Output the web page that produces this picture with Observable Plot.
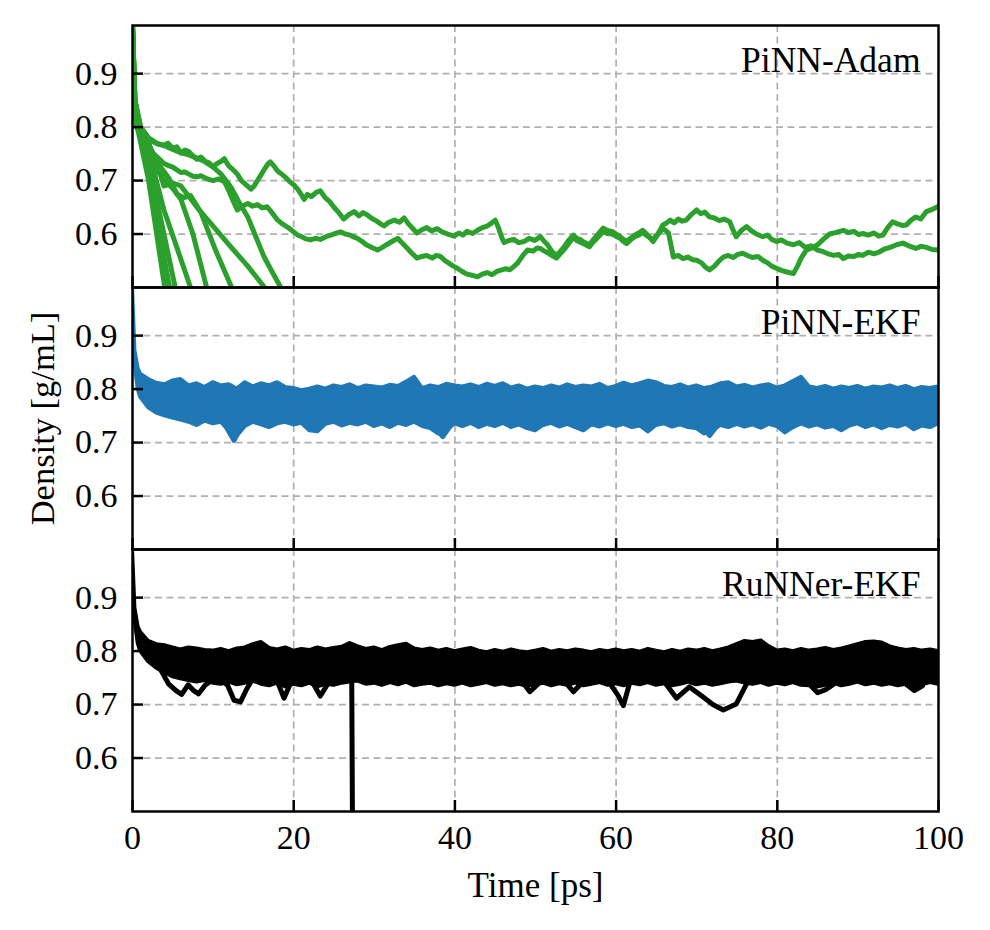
<!DOCTYPE html>
<html>
<head>
<meta charset="utf-8">
<script src="https://cdn.jsdelivr.net/npm/d3@7"></script>
<script src="https://cdn.jsdelivr.net/npm/@observablehq/plot@0.6"></script>
<style>
  html, body { margin: 0; padding: 0; background: #fff; }
  #chart { width: 990px; height: 930px; }
  #chart svg text { font-family: 'Liberation Serif', 'Times New Roman', Times, serif !important; }
</style>
</head>
<body>
<div id="chart"></div>
<script>
// ---------- data ----------
const panels = ["PiNN-Adam", "PiNN-EKF", "RuNNer-EKF"];
const xTicks = [0, 20, 40, 60, 80, 100];
const xGrid = [20, 40, 60, 80];
const yTicks = [0.6, 0.7, 0.8, 0.9];
const yLabel = "Density [g/mL]";
const xLabel = "Time [ps]";

// sample times for the dense EKF bands
const bandT = [0, 0.3, 0.7, 1, 2, 3, 4, 5, 6, 7, 8, 9, 10,
  11, 12, 13, 14, 15, 16, 17, 18, 19, 20, 21, 22, 23, 24, 25, 26, 27, 28, 29, 30,
  31, 32, 33, 34, 35, 36, 37, 38, 39, 40, 41, 42, 43, 44, 45, 46, 47, 48, 49, 50,
  51, 52, 53, 54, 55, 56, 57, 58, 59, 60, 61, 62, 63, 64, 65, 66, 67, 68, 69, 70,
  71, 72, 73, 74, 75, 76, 77, 78, 79, 80, 81, 82, 83, 84, 85, 86, 87, 88, 89, 90,
  91, 92, 93, 94, 95, 96, 97, 98, 99, 100];

// PiNN-EKF band (upper / lower envelope)
const ekfHi = [0.990, 0.872, 0.838, 0.828, 0.818, 0.811, 0.808, 0.815, 0.818, 0.806, 0.810, 0.803, 0.812,
  0.806, 0.808, 0.800, 0.812, 0.804, 0.810, 0.806, 0.812, 0.803, 0.801, 0.797, 0.800, 0.804, 0.800, 0.806, 0.803, 0.808, 0.801, 0.806, 0.804,
  0.802, 0.807, 0.805, 0.813, 0.822, 0.801, 0.806, 0.803, 0.809, 0.806, 0.804, 0.808, 0.803, 0.809, 0.805, 0.810, 0.802, 0.806, 0.800, 0.804,
  0.801, 0.806, 0.802, 0.808, 0.803, 0.806, 0.804, 0.809, 0.801, 0.805, 0.811, 0.806, 0.810, 0.815, 0.812, 0.805, 0.803, 0.808, 0.802, 0.806,
  0.801, 0.804, 0.810, 0.812, 0.804, 0.807, 0.802, 0.806, 0.808, 0.802, 0.806, 0.814, 0.822, 0.804, 0.801, 0.805, 0.800, 0.804, 0.801, 0.805,
  0.800, 0.804, 0.802, 0.806, 0.801, 0.805, 0.799, 0.803, 0.801, 0.804];
const ekfLo = [0.990, 0.850, 0.800, 0.785, 0.765, 0.755, 0.750, 0.746, 0.742, 0.738, 0.732, 0.740, 0.735,
  0.738, 0.722, 0.712, 0.730, 0.738, 0.733, 0.728, 0.735, 0.738, 0.733, 0.736, 0.722, 0.720, 0.734, 0.738, 0.731, 0.736, 0.733, 0.738, 0.730,
  0.735, 0.728, 0.736, 0.732, 0.738, 0.730, 0.726, 0.716, 0.722, 0.735, 0.730, 0.736, 0.728, 0.734, 0.730, 0.736, 0.728, 0.733, 0.726, 0.722,
  0.732, 0.736, 0.729, 0.734, 0.728, 0.722, 0.733, 0.729, 0.735, 0.730, 0.734, 0.728, 0.731, 0.720, 0.732, 0.735, 0.729, 0.733, 0.728, 0.726,
  0.716, 0.722, 0.732, 0.728, 0.734, 0.729, 0.733, 0.727, 0.734, 0.730, 0.718, 0.728, 0.735, 0.729, 0.733, 0.727, 0.730, 0.722, 0.731, 0.735,
  0.728, 0.733, 0.726, 0.732, 0.729, 0.734, 0.724, 0.731, 0.728, 0.735];

// RuNNer-EKF band (upper / lower envelope)
const runHi = [0.990, 0.880, 0.845, 0.835, 0.818, 0.812, 0.810, 0.806, 0.802, 0.806, 0.804, 0.801, 0.800,
  0.803, 0.799, 0.804, 0.806, 0.812, 0.816, 0.805, 0.802, 0.806, 0.800, 0.803, 0.801, 0.806, 0.802, 0.805, 0.807, 0.814, 0.808, 0.803, 0.806,
  0.801, 0.807, 0.810, 0.813, 0.804, 0.801, 0.804, 0.800, 0.803, 0.799, 0.802, 0.805, 0.800, 0.797, 0.801, 0.798, 0.802, 0.799, 0.797, 0.800,
  0.803, 0.798, 0.801, 0.799, 0.802, 0.800, 0.797, 0.801, 0.799, 0.802, 0.799, 0.801, 0.798, 0.803, 0.800, 0.797, 0.801, 0.798, 0.802, 0.800,
  0.803, 0.799, 0.802, 0.806, 0.812, 0.818, 0.816, 0.819, 0.808, 0.800, 0.802, 0.799, 0.803, 0.800, 0.802, 0.805, 0.801, 0.804, 0.808, 0.812,
  0.816, 0.817, 0.815, 0.808, 0.804, 0.801, 0.803, 0.800, 0.802, 0.799];
const runLo = [0.990, 0.860, 0.815, 0.800, 0.780, 0.768, 0.760, 0.752, 0.748, 0.745, 0.742, 0.745, 0.740,
  0.738, 0.742, 0.737, 0.740, 0.744, 0.738, 0.735, 0.740, 0.733, 0.738, 0.735, 0.740, 0.733, 0.738, 0.736, 0.740, 0.742, 0.744, 0.738, 0.740,
  0.736, 0.741, 0.737, 0.742, 0.735, 0.738, 0.740, 0.735, 0.739, 0.736, 0.740, 0.735, 0.738, 0.741, 0.736, 0.739, 0.735, 0.738, 0.734, 0.737,
  0.740, 0.735, 0.739, 0.736, 0.740, 0.735, 0.738, 0.741, 0.736, 0.739, 0.735, 0.740, 0.737, 0.741, 0.736, 0.739, 0.735, 0.738, 0.742, 0.737,
  0.740, 0.736, 0.739, 0.742, 0.744, 0.740, 0.738, 0.741, 0.736, 0.740, 0.737, 0.741, 0.736, 0.735, 0.733, 0.736, 0.740, 0.735, 0.738, 0.742,
  0.737, 0.740, 0.736, 0.739, 0.735, 0.738, 0.733, 0.737, 0.741, 0.738];

// PiNN-EKF dips that leave the band
const ekfDips = [
  [[11.3, 0.738], [12.6, 0.704], [13.6, 0.735]],
  [[37.2, 0.735], [38.5, 0.711], [39.6, 0.735]],
  [[70.6, 0.733], [71.6, 0.713], [72.6, 0.733]]
];

// RuNNer-EKF excursions (incl. the drop at ~27 ps)
const runDips = [
  [[3.5, 0.765], [4.5, 0.738], [5.4, 0.726], [6.1, 0.719], [6.9, 0.737], [7.6, 0.726], [8.2, 0.720], [9.0, 0.736], [9.8, 0.745]],
  [[10.8, 0.748], [11.8, 0.736], [12.6, 0.708], [13.4, 0.705], [14.2, 0.730], [15.0, 0.750]],
  [[18.0, 0.742], [18.8, 0.712], [19.6, 0.740]],
  [[22.4, 0.740], [23.3, 0.716], [24.2, 0.738]],
  [[26.6, 0.765], [27.2, 0.752], [27.35, 0.300]],
  [[48.5, 0.740], [49.3, 0.724], [50.3, 0.738]],
  [[53.8, 0.740], [54.7, 0.724], [55.6, 0.738]],
  [[59.2, 0.740], [60.2, 0.718], [60.9, 0.698], [61.6, 0.736]],
  [[66.0, 0.742], [67.5, 0.712], [69.1, 0.733], [70.8, 0.714], [72.0, 0.700], [73.3, 0.690], [74.9, 0.701], [76.2, 0.739], [76.8, 0.785], [77.6, 0.812]],
  [[84.0, 0.738], [85.0, 0.722], [86.0, 0.728], [87.0, 0.738]],
  [[96.0, 0.738], [97.0, 0.726], [98.0, 0.735]]
];

// PiNN-Adam trajectories
const adamA = [[0, 0.99], [0.2, 0.86], [0.5, 0.805], [1, 0.792], [1.5, 0.785], [2, 0.776], [2.6, 0.772], [3.2, 0.768], [3.9, 0.766], [4.4, 0.770], [5, 0.760], [5.5, 0.763], [6, 0.752], [6.5, 0.757], [7, 0.754], [7.5, 0.746], [8, 0.740], [8.5, 0.744], [9, 0.736], [9.5, 0.733], [10, 0.726], [10.5, 0.732], [11, 0.736], [11.4, 0.741], [11.9, 0.728], [12.5, 0.720], [13, 0.712], [13.5, 0.700], [14.1, 0.692], [14.7, 0.684], [15.1, 0.690], [15.5, 0.700], [16, 0.712], [16.4, 0.722], [16.8, 0.731], [17.1, 0.735], [17.5, 0.728], [18, 0.718], [18.5, 0.712], [19, 0.706], [19.5, 0.698], [20, 0.692], [20.5, 0.684], [21, 0.672], [21.3, 0.665], [21.7, 0.674], [22.2, 0.670], [22.8, 0.678], [23.3, 0.681], [23.9, 0.668], [24.5, 0.660], [25, 0.650], [25.6, 0.640], [26.2, 0.628], [26.8, 0.636], [27.5, 0.642], [28.1, 0.634], [28.6, 0.640], [29.1, 0.636], [29.7, 0.629], [30.2, 0.625], [30.7, 0.620], [31.2, 0.615], [31.8, 0.622], [32.5, 0.626], [33.1, 0.622], [33.7, 0.630], [34.3, 0.618], [34.8, 0.610], [35.3, 0.602], [35.9, 0.608], [36.5, 0.612], [37.1, 0.606], [37.8, 0.610], [38.4, 0.604], [39.1, 0.600], [39.9, 0.596], [40.5, 0.602], [41, 0.598], [41.5, 0.605], [42.2, 0.601], [42.8, 0.607], [43.4, 0.612], [44, 0.615], [44.5, 0.620], [45, 0.626], [45.4, 0.612], [45.8, 0.594], [46.1, 0.584], [46.7, 0.588], [47.3, 0.590], [47.9, 0.584], [48.6, 0.586], [49.2, 0.592], [49.9, 0.588], [50.6, 0.595], [51.1, 0.586], [51.5, 0.580], [52, 0.568], [52.6, 0.560], [53, 0.566], [53.5, 0.575], [54.1, 0.588], [54.7, 0.598], [55.1, 0.592], [55.5, 0.590], [56.1, 0.584], [56.7, 0.580], [57.1, 0.588], [57.5, 0.595], [58, 0.604], [58.4, 0.611], [59, 0.606], [59.5, 0.605], [60, 0.600], [60.5, 0.595], [60.9, 0.590], [61.3, 0.586], [61.8, 0.592], [62.3, 0.598], [62.8, 0.602], [63.3, 0.607], [63.9, 0.598], [64.6, 0.586], [65.2, 0.600], [65.8, 0.617], [66.2, 0.620], [66.7, 0.626], [67.2, 0.621], [67.7, 0.628], [68.2, 0.624], [68.7, 0.626], [69.3, 0.636], [70, 0.645], [70.5, 0.638], [71, 0.641], [71.6, 0.632], [72.2, 0.630], [72.8, 0.625], [73.4, 0.628], [74.1, 0.623], [74.5, 0.608], [74.9, 0.595], [75.5, 0.606], [76.2, 0.614], [76.8, 0.606], [77.4, 0.600], [78.2, 0.595], [78.8, 0.598], [79.3, 0.590], [79.9, 0.586], [80.5, 0.589], [81.2, 0.583], [82, 0.580], [82.7, 0.584], [83.5, 0.575], [84.2, 0.578], [85, 0.570], [85.7, 0.567], [86.3, 0.563], [87, 0.560], [87.6, 0.562], [88.2, 0.554], [88.8, 0.559], [89.5, 0.558], [90.1, 0.562], [90.6, 0.560], [91.3, 0.566], [92, 0.563], [92.6, 0.566], [93.3, 0.572], [94, 0.575], [94.8, 0.580], [95.6, 0.583], [96.3, 0.578], [97.2, 0.573], [97.8, 0.577], [98.5, 0.575], [99.2, 0.571], [100, 0.570]];
const adamB = [[0, 0.99], [0.2, 0.86], [0.5, 0.80], [1, 0.785], [1.5, 0.772], [2, 0.762], [2.5, 0.752], [3, 0.745], [3.5, 0.738], [3.9, 0.732], [4.5, 0.728], [5, 0.725], [5.5, 0.720], [6, 0.715], [6.5, 0.716], [7, 0.712], [7.5, 0.708], [8, 0.707], [8.5, 0.709], [9, 0.705], [9.5, 0.702], [10, 0.700], [10.7, 0.703], [11.4, 0.698], [11.8, 0.686], [12.2, 0.672], [12.6, 0.658], [13, 0.645], [13.6, 0.652], [14.3, 0.657], [14.9, 0.652], [15.5, 0.655], [16.1, 0.649], [16.7, 0.651], [17.3, 0.640], [18, 0.626], [18.5, 0.620], [19, 0.615], [19.5, 0.610], [20, 0.604], [20.5, 0.598], [21, 0.595], [21.5, 0.591], [22.1, 0.589], [22.7, 0.592], [23.3, 0.590], [24, 0.595], [24.6, 0.598], [25.2, 0.601], [25.8, 0.604], [26.4, 0.600], [27, 0.598], [27.5, 0.594], [27.9, 0.592], [28.5, 0.586], [29, 0.580], [29.7, 0.575], [30.4, 0.570], [31, 0.575], [31.5, 0.580], [32.2, 0.586], [32.9, 0.592], [33.4, 0.584], [34, 0.575], [34.6, 0.565], [35.3, 0.555], [35.9, 0.558], [36.5, 0.560], [37.2, 0.555], [37.7, 0.560], [38.2, 0.558], [38.8, 0.550], [39.3, 0.545], [39.8, 0.540], [40.3, 0.536], [40.9, 0.530], [41.5, 0.525], [42.1, 0.523], [42.8, 0.520], [43.4, 0.525], [44, 0.528], [44.6, 0.524], [45.2, 0.530], [45.8, 0.533], [46.3, 0.535], [46.8, 0.533], [47.3, 0.539], [47.8, 0.546], [48.2, 0.555], [48.6, 0.563], [49, 0.570], [49.7, 0.568], [50.2, 0.574], [50.6, 0.573], [51, 0.569], [51.5, 0.565], [52, 0.560], [52.6, 0.555], [53, 0.562], [53.5, 0.570], [54.1, 0.582], [54.7, 0.594], [55.1, 0.588], [55.5, 0.585], [56.1, 0.581], [56.7, 0.576], [57.1, 0.584], [57.5, 0.590], [58, 0.598], [58.4, 0.605], [58.9, 0.601], [59.5, 0.600], [60, 0.596], [60.5, 0.592], [60.9, 0.586], [61.3, 0.582], [61.8, 0.589], [62.3, 0.595], [62.8, 0.598], [63.3, 0.603], [63.9, 0.596], [64.6, 0.590], [65.2, 0.600], [65.8, 0.610], [66.2, 0.606], [66.5, 0.602], [66.8, 0.580], [67.1, 0.557], [67.7, 0.560], [68.3, 0.554], [68.9, 0.557], [69.5, 0.552], [70, 0.551], [70.6, 0.546], [71.1, 0.538], [71.6, 0.533], [72.2, 0.540], [72.8, 0.550], [73.3, 0.557], [73.9, 0.560], [74.5, 0.556], [75.1, 0.562], [75.7, 0.564], [76.3, 0.560], [76.9, 0.556], [77.6, 0.558], [78.2, 0.551], [78.8, 0.546], [79.3, 0.540], [79.9, 0.536], [80.5, 0.532], [81.2, 0.529], [82, 0.526], [82.5, 0.540], [83, 0.556], [83.6, 0.570], [84.3, 0.574], [85, 0.580], [85.7, 0.590], [86.5, 0.600], [87.3, 0.603], [88.2, 0.607], [88.8, 0.603], [89.5, 0.605], [90.1, 0.599], [90.6, 0.601], [91.3, 0.598], [92, 0.602], [92.6, 0.596], [93.1, 0.598], [93.7, 0.612], [94.3, 0.623], [94.9, 0.619], [95.5, 0.616], [96, 0.617], [96.6, 0.626], [97.2, 0.632], [97.8, 0.628], [98.5, 0.642], [99.2, 0.646], [100, 0.652]];
const adamCrash1 = [[0, 0.99], [0.2, 0.86], [0.6, 0.80], [2.0, 0.70], [4.0, 0.50], [4.4, 0.46]];
const adamCrash2 = [[0, 0.99], [0.2, 0.86], [0.6, 0.81], [2.2, 0.70], [4.6, 0.50], [5.0, 0.46]];
const adamCrash3 = [[0, 0.99], [0.2, 0.86], [0.7, 0.81], [2.5, 0.70], [5.3, 0.50], [5.7, 0.46]];
const adamCrash4 = [[0, 0.99], [0.3, 0.85], [1, 0.79], [1.8, 0.745], [2.6, 0.72], [3.9, 0.645], [5.5, 0.575], [7.2, 0.50], [7.7, 0.47]];
const adamCrash5 = [[0, 0.99], [0.3, 0.85], [1, 0.79], [2, 0.75], [3, 0.72], [4, 0.70], [5, 0.685], [6, 0.665], [7.5, 0.60], [9.2, 0.50], [9.6, 0.48]];
const adamCrash6 = [[0, 0.99], [0.3, 0.85], [1, 0.79], [2, 0.755], [3.5, 0.725], [4.5, 0.705], [5.5, 0.675], [6.4, 0.668], [7.2, 0.672], [8.5, 0.64], [10.3, 0.57], [12.3, 0.50], [12.8, 0.48]];
const adamCrash7 = [[0, 0.99], [0.3, 0.85], [1, 0.80], [2, 0.77], [3, 0.735], [3.9, 0.69], [5, 0.695], [6, 0.69], [7, 0.67], [8, 0.65], [10, 0.615], [12.2, 0.576], [14.3, 0.54], [16.4, 0.50], [16.9, 0.49]];
const adamCrash8 = [[0, 0.99], [0.3, 0.85], [1, 0.80], [2, 0.78], [3, 0.77], [4, 0.765], [5, 0.758], [6, 0.752], [7, 0.748], [8, 0.742], [9, 0.735], [10, 0.725], [11, 0.712], [12.2, 0.688], [13.2, 0.66], [14.3, 0.632], [15.3, 0.595], [16.3, 0.558], [17.3, 0.53], [18.4, 0.50], [18.8, 0.49]];
const adamLines = [adamCrash1, adamCrash2, adamCrash3, adamCrash4, adamCrash5, adamCrash6, adamCrash7, adamCrash8, adamB, adamA];

// ---------- build ----------
const W = 990, H = 930, ML = 132, MR = 52, MT = 25, MB = 119;
const innerW = W - ML - MR;
const facetH = (H - MT - MB) / panels.length;
const tickLen = 11;
const FONT = "'Liberation Serif', 'Times New Roman', Times, serif";
const colors = {adam: "#2ca02c", ekf: "#1f77b4", run: "#000000"};

const toRows = (lines) => lines.flatMap((pts, i) => pts.map(([t, v]) => ({t, v, id: i})));
const band = (lo, hi) => bandT.map((t, i) => ({t, lo: lo[i], hi: hi[i]}));

const gridStyle = {stroke: "#b0b0b0", strokeOpacity: 1, strokeWidth: 1.7, strokeDasharray: "7,4.5"};
const lineStyle = {strokeWidth: 5, strokeLinejoin: "round", strokeLinecap: "round", clip: true};

const chart = Plot.plot({
  width: W, height: H,
  marginLeft: ML, marginRight: MR, marginTop: MT, marginBottom: MB,
  style: {fontFamily: FONT, background: "#fff", color: "#000"},
  x: {domain: [0, 100], axis: null},
  y: {domain: [0.5, 0.99], axis: null},
  fy: {domain: panels, padding: 0, axis: null},
  marks: [
    Plot.gridX(xGrid, gridStyle),
    Plot.gridY(yTicks, gridStyle),
    // PiNN-Adam
    Plot.line(toRows(adamLines), {x: "t", y: "v", z: "id", fy: () => panels[0], stroke: colors.adam, ...lineStyle}),
    // PiNN-EKF
    Plot.areaY(band(ekfLo, ekfHi), {x: "t", y1: "lo", y2: "hi", fy: () => panels[1], fill: colors.ekf, stroke: colors.ekf, strokeWidth: 4, strokeLinejoin: "round", clip: true}),
    Plot.line(toRows(ekfDips), {x: "t", y: "v", z: "id", fy: () => panels[1], stroke: colors.ekf, ...lineStyle}),
    // RuNNer-EKF
    Plot.areaY(band(runLo, runHi), {x: "t", y1: "lo", y2: "hi", fy: () => panels[2], fill: colors.run, stroke: colors.run, strokeWidth: 4, strokeLinejoin: "round", clip: true}),
    Plot.line(toRows(runDips), {x: "t", y: "v", z: "id", fy: () => panels[2], stroke: colors.run, ...lineStyle}),
    // inward ticks
    Plot.tickX(xTicks, {x: d => d, insetTop: facetH - tickLen, stroke: "#000", strokeWidth: 2.5}),
    Plot.tickY(yTicks, {y: d => d, insetRight: innerW - tickLen, stroke: "#000", strokeWidth: 2.5}),
    Plot.frame({stroke: "#000", strokeWidth: 2.5}),
    // axes text
    Plot.axisX(xTicks, {tickSize: 0, tickPadding: 13, fontSize: 34, fill: "#000",
      label: xLabel, labelAnchor: "center", labelArrow: "none", labelOffset: 85}),
    Plot.axisY(yTicks, {tickSize: 0, tickPadding: 15, fontSize: 34, fill: "#000",
      tickFormat: d3.format(".1f"), label: null}),
    // panel titles
    Plot.text(panels, {fy: d => d, text: d => d, frameAnchor: "top-right", textAnchor: "end",
      dx: -18, dy: 21, fontSize: 35.5, fill: "#000"}),
    // y label (centred on the middle panel)
    Plot.text([yLabel], {fy: () => panels[1], text: d => d, frameAnchor: "left", textAnchor: "middle",
      rotate: -90, dx: -90, fontSize: 34.5, fill: "#000"})
  ]
});
// axis label font size (label is part of the x axis mark)
d3.select(chart).selectAll('g[aria-label="x-axis label"] text').attr("font-size", 35);
document.getElementById("chart").appendChild(chart);
</script>
</body>
</html>
